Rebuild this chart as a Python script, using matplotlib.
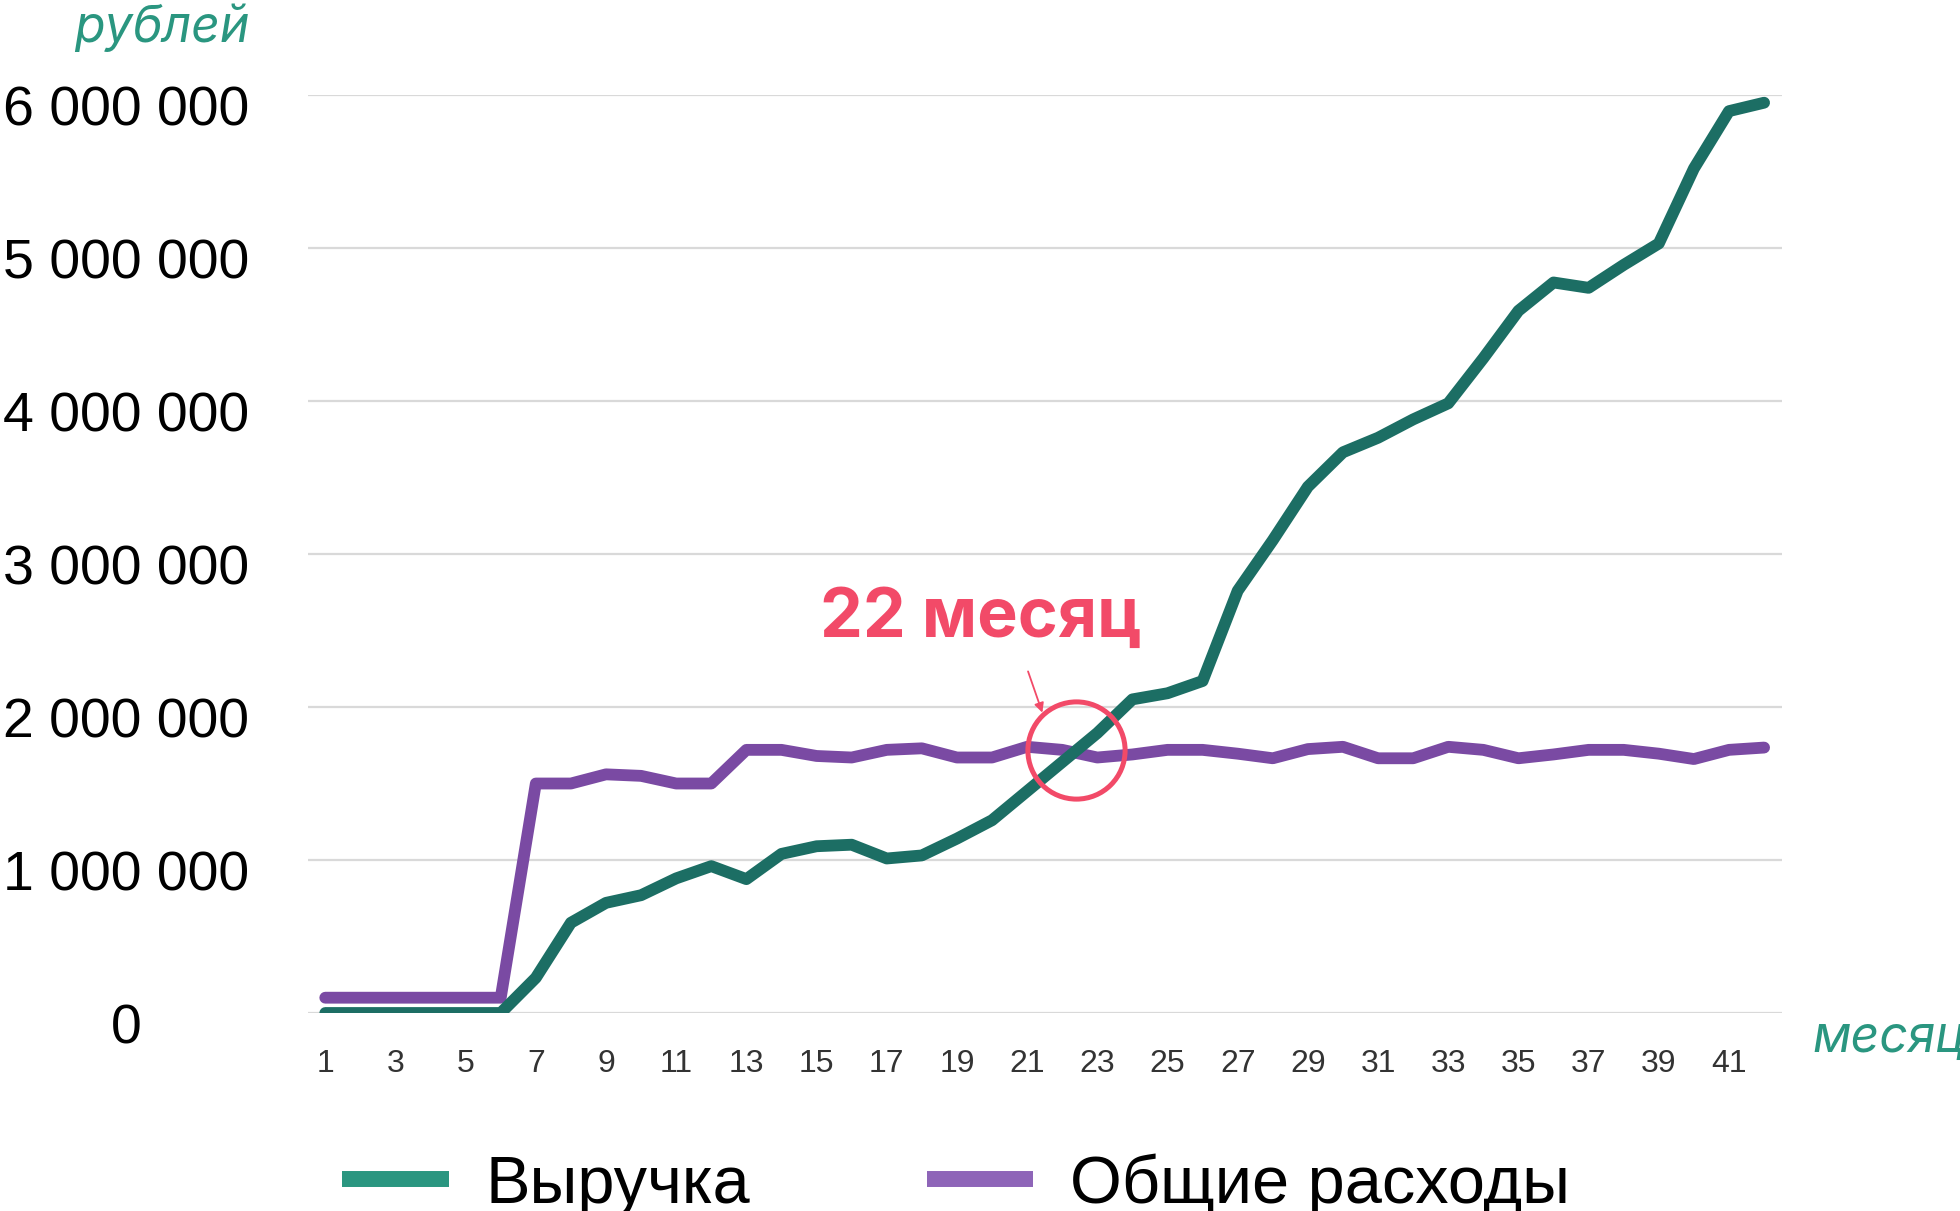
import matplotlib.pyplot as plt
from matplotlib.lines import Line2D
from matplotlib.transforms import ScaledTranslation

# Data
months = list(range(1, 43))
revenue = [0, 0, 0, 0, 0, 0, 230000, 590000, 720000, 770000,
           880000, 960000, 875000, 1040000, 1090000, 1100000, 1010000, 1030000, 1140000, 1260000,
           1450000, 1640000, 1830000, 2050000, 2090000, 2170000, 2760000, 3090000, 3440000, 3665000,
           3760000, 3880000, 3985000, 4280000, 4590000, 4775000, 4740000, 4890000, 5030000, 5520000,
           5895000, 5950000]
costs = [100000, 100000, 100000, 100000, 100000, 100000, 1500000, 1500000, 1560000, 1550000,
         1500000, 1500000, 1720000, 1720000, 1680000, 1670000, 1720000, 1730000, 1670000, 1670000,
         1740000, 1720000, 1670000, 1690000, 1720000, 1720000, 1695000, 1665000, 1725000, 1740000,
         1665000, 1665000, 1740000, 1720000, 1665000, 1690000, 1720000, 1720000, 1695000, 1660000,
         1720000, 1735000]
yticks = [0, 1000000, 2000000, 3000000, 4000000, 5000000, 6000000]
ytick_labels = ['0', '1 000 000', '2 000 000', '3 000 000', '4 000 000', '5 000 000', '6 000 000']
xticks = list(range(1, 42, 2))
series_names = ['Выручка', 'Общие расходы']

teal = '#1c6e64'
teal_light = '#2a9680'
purple = '#7a4aa3'
purple_light = '#8e65b8'
pink = '#f24a68'
sans = ['Liberation Sans', 'DejaVu Sans']

fig = plt.figure(figsize=(19.6, 12.11), dpi=100)
ax = fig.add_axes([0.157, 0.1635, 0.752, 0.758])

ax.plot(months, costs, color=purple, lw=8.5, solid_joinstyle='round', solid_capstyle='round', zorder=3)
ax.plot(months, revenue, color=teal, lw=8.5, solid_joinstyle='round', solid_capstyle='round', zorder=4)

ax.set_xlim(0.5, 42.5)
ax.set_ylim(0, 6000000)
ax.set_yticks(yticks)
ax.set_yticklabels(ytick_labels, family=sans, fontsize=40, ha='center')
ax.tick_params(axis='y', length=0, pad=131)
# labels sit a little below their gridlines in the original
for lbl in ax.get_yticklabels():
    lbl.set_transform(lbl.get_transform() + ScaledTranslation(0, -10 / 100, fig.dpi_scale_trans))
ax.set_xticks(xticks)
ax.set_xticklabels([str(t) for t in xticks], family=sans, fontsize=23, color='#333333')
ax.tick_params(axis='x', length=0, pad=26)

ax.grid(axis='y', color='#d9d9d9', lw=1.6)
ax.set_axisbelow(True)
for s in ax.spines.values():
    s.set_visible(False)

# axis captions
fig.text(250 / 1960, 1 - 28 / 1211, 'рублей', ha='right', va='center', fontsize=36,
         style='italic', color='#2a9680', family=['Inter', 'DejaVu Sans'])
fig.text(1812 / 1960, 1 - 1038 / 1211, 'месяц', ha='left', va='center', fontsize=36,
         style='italic', color='#2a9680', family=['Inter', 'DejaVu Sans'])

# break-even annotation
ax.plot([22.4], [1720000], marker='o', markersize=70, markerfacecolor='none',
        markeredgecolor=pink, markeredgewidth=3.6, zorder=5, clip_on=False)
ax.annotate('', xy=(21.46, 1946000), xytext=(21.0, 2250000),
            arrowprops=dict(arrowstyle='-|>', color=pink, lw=1.3, mutation_scale=14))
ax.text(19.68, 2576000, '22 месяц', ha='center', va='center', fontsize=49,
        fontweight='bold', color=pink, family=['Inter', 'DejaVu Sans'])

# legend
handles = [Line2D([], [], color=teal_light, lw=11.5, solid_capstyle='butt'),
           Line2D([], [], color=purple_light, lw=11.5, solid_capstyle='butt')]
leg = fig.legend(handles, series_names, loc='center left', bbox_to_anchor=(342 / 1960, 26 / 1211),
                 ncol=2, frameon=False, borderpad=0, borderaxespad=0,
                 handlelength=1.6, handletextpad=0.55, columnspacing=2.65,
                 prop={'family': sans, 'size': 48})

fig.savefig('out.png', dpi=100)
